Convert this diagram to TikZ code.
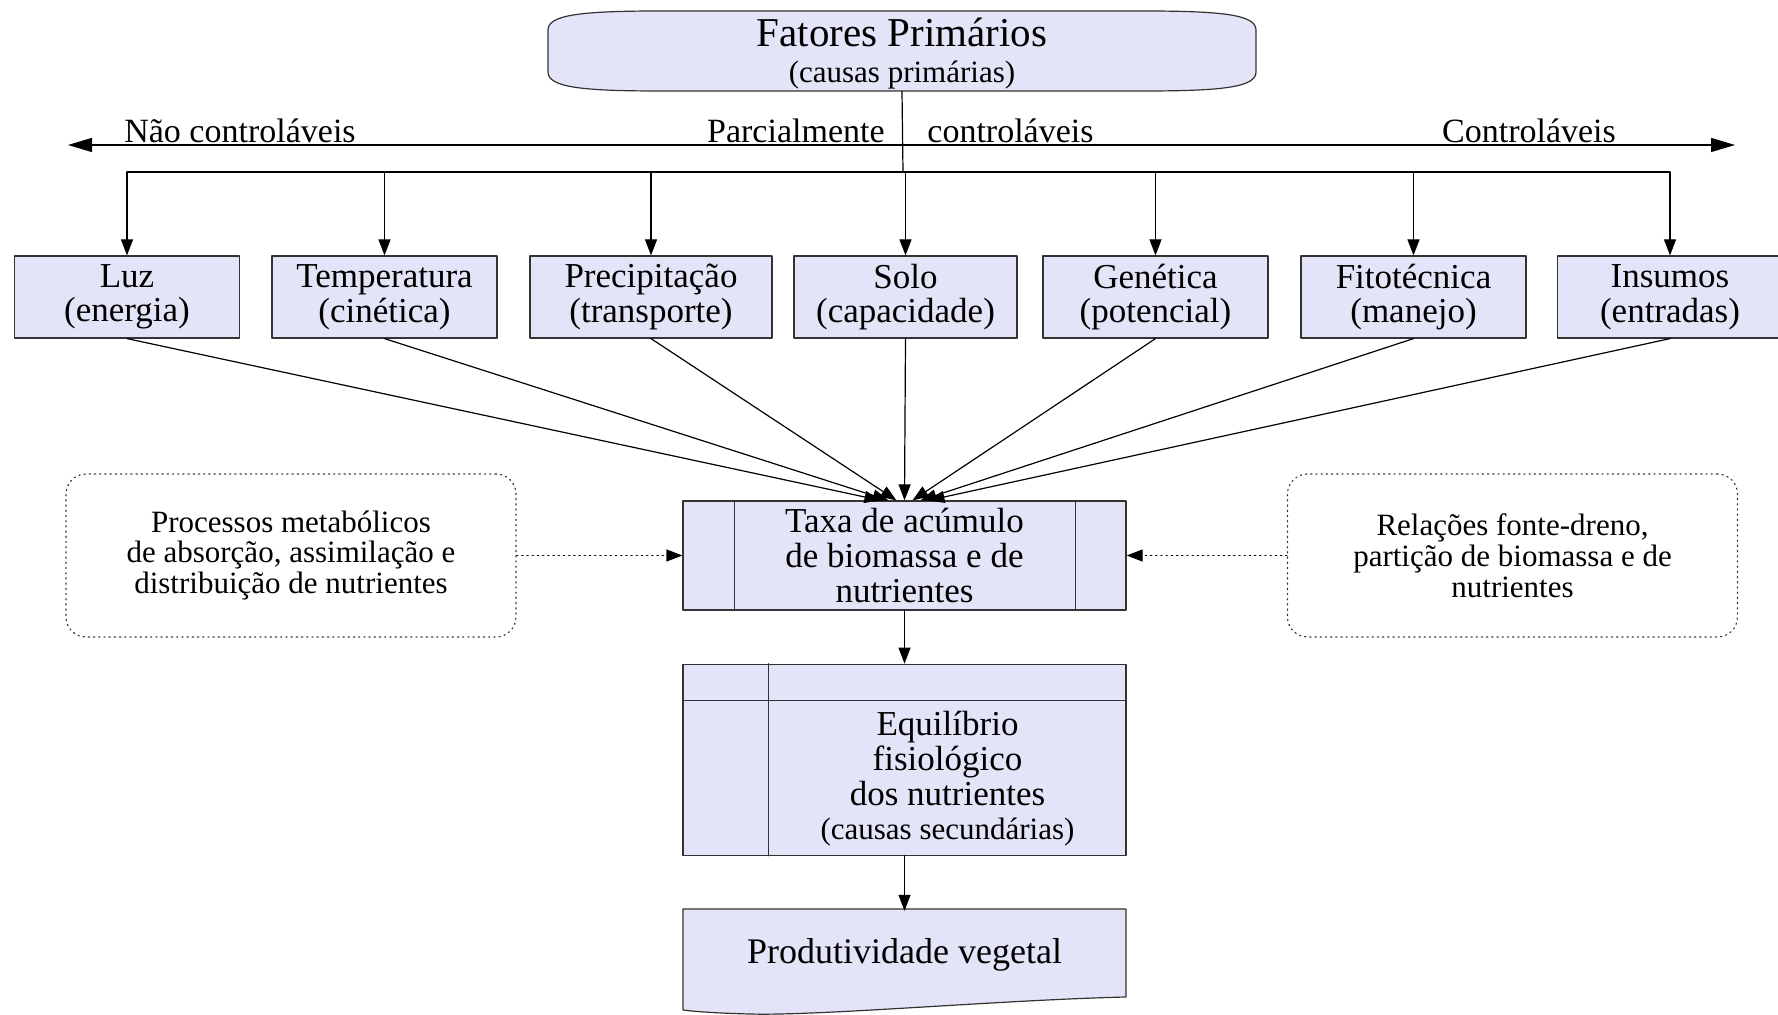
\documentclass[tikz,border=0pt]{standalone}
\usepackage{fontspec}
\setmainfont{Liberation Serif}
\usetikzlibrary{arrows.meta, calc, positioning}
\definecolor{boxfill}{HTML}{E4E4F8}
\definecolor{edge}{HTML}{333333}
\tikzset{
  >={Triangle[length=8pt, width=6pt]},
  every picture/.style={line cap=round, line join=round},
  txt/.style={font=\fontsize{17.5}{17.3}\selectfont},
  fator/.style={draw=edge, fill=boxfill, line width=0.6pt, minimum height=41pt, align=center, inner sep=2pt, txt},
  bloco/.style={fator, minimum width=221.5pt},
  nota/.style={draw=edge, dotted, line width=0.6pt, rounded corners=10pt, minimum width=225pt, minimum height=81.5pt, align=center, font=\fontsize{15.5}{15.4}\selectfont},
  link/.style={->, line width=0.6pt},
  fluxo/.style={->, dotted, line width=0.6pt},
  rotulo/.style={font=\fontsize{17}{17}\selectfont, inner sep=0pt},
}

\begin{document}
\begin{tikzpicture}[x=0.5pt, y=-0.5pt]
  \useasboundingbox (0,0) rectangle (1778,1015);
  % ---------------- primary factors
  \draw[draw=edge, fill=boxfill, line width=0.6pt] (548,30) .. controls (548,15) and (580,11) .. (660,11) -- (1144,11)
    .. controls (1224,11) and (1256,15) .. (1256,30) -- (1256,72) .. controls (1256,87) and (1224,91) .. (1144,91)
    -- (660,91) .. controls (580,91) and (548,87) .. (548,72) -- cycle;
  \node[minimum width=354pt, minimum height=40pt, align=center, font=\fontsize{20.5}{18}\selectfont] (topo) at (902,51) {};
  \node[align=center, font=\fontsize{20.5}{18}\selectfont] (topotxt) at (902,54)
    {Fatores Primários\\{\fontsize{15.5}{18}\selectfont (causas primárias)}};
  % control scale
  \coordinate (esq) at (68,145);
  \coordinate (dir) at (1735,145);
  \draw[<->, >={Triangle[length=12pt, width=7pt]}, line width=0.6pt] (esq) -- (dir);
  \coordinate (meio) at (903,131);
  \node[rotulo] (naoctrl) at (240,131) {Não controláveis};
  \node[rotulo, left=9pt of meio] (parc) {Parcialmente};
  \node[rotulo, right=12pt of meio] (ctrl) {controláveis};
  \node[rotulo] (contr) at (1529,131) {Controláveis};
  % ---------------- factor boxes
  \foreach \nome/\x/\w/\txt in {luz/127/112.5/Luz\\(energia), temp/384.5/112.5/Temperatura\\(cinética),
      prec/651/121/Precipitação\\(transporte), solo/905.5/111.5/Solo\\(capacidade),
      gen/1155.5/112.5/Genética\\(potencial), fito/1413.5/112.5/Fitotécnica\\(manejo),
      ins/1670/112.5/Insumos\\(entradas)}
    \node[fator, minimum width=\w pt] (\nome) at (\x,297) {\txt};
  \coordinate (barra) at (903,172);
  \draw[line width=0.6pt] (topo.south) -- (barra);
  \draw[line width=0.6pt] (luz.north |- barra) -- (ins.north |- barra);
  \foreach \nome in {luz, temp, prec, solo, gen, fito, ins}
    \draw[link] (\nome.north |- barra) -- (\nome.north);
  % ---------------- accumulation rate
  \node[bloco, minimum height=54.5pt] (taxa) at (904.5,555.5) {Taxa de acúmulo\\de biomassa e de\\nutrientes};
  \draw[draw=edge, line width=0.6pt] ([xshift=26pt]taxa.north west) -- ([xshift=26pt]taxa.south west)
    ([xshift=-25.5pt]taxa.north east) -- ([xshift=-25.5pt]taxa.south east);
  \foreach \nome/\dx in {luz/-24, temp/-16, prec/-8, solo/0, gen/8, fito/16, ins/24}
    \draw[link] (\nome.south) -- ($(taxa.north)+(\dx,0)$);
  % side notes
  \node[nota] (proc) at (291,555.5) {Processos metabólicos\\de absorção, assimilação e\\distribuição de nutrientes};
  \node[nota] (rel) at (1512.5,555.5) {Relações fonte-dreno,\\partição de biomassa e de\\nutrientes};
  \draw[fluxo] (proc) -- (taxa);
  \draw[fluxo] (rel) -- (taxa);
  % ---------------- physiological balance
  \node[bloco, minimum height=95.5pt, below=26.5pt of taxa] (equil) {};
  \draw[draw=edge, line width=0.6pt] ([yshift=-18.5pt]equil.north west) -- ([yshift=-18.5pt]equil.north east)
    ([xshift=43pt]equil.north west) -- ([xshift=43pt]equil.south west);
  \node[txt, align=center] (equiltxt) at (947.5,779) {Equilíbrio\\fisiológico\\dos nutrientes\\{\fontsize{15.5}{17.3}\selectfont (causas secundárias)}};
  \draw[link] (taxa.south) -- (equil.north);
  % ---------------- yield (document shape)
  \draw[draw=edge, fill=boxfill, line width=0.6pt] (683,909) -- (1126,909) -- (1126,997)
    .. controls (1000,1000) and (820,1016) .. (750,1014) .. controls (710,1013) and (690,1011) .. (683,1010) -- cycle;
  \node[txt, minimum width=221.5pt, minimum height=44pt, below=27.5pt of equil, font=\fontsize{18}{18}\selectfont] (prod) {Produtividade vegetal};
  \draw[link] (equil.south) -- (prod.north);
\end{tikzpicture}
\end{document}
